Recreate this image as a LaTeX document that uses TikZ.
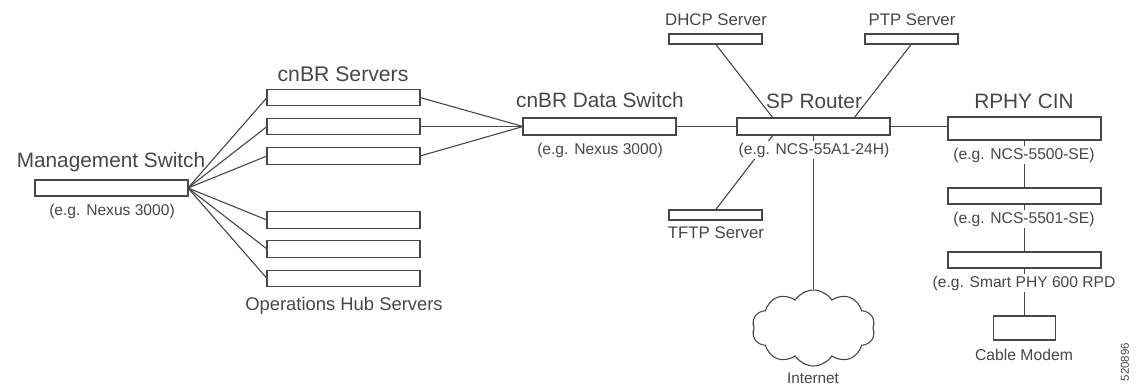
\documentclass[tikz,border=0pt]{standalone}
\usepackage{fontspec}
\setmainfont{Liberation Sans}
\usetikzlibrary{calc,shapes.symbols}

\colorlet{ink}{black!72}
\tikzset{
  unit/.style={draw=ink,line width=1.1pt,fill=white,inner sep=0pt,outer sep=0pt,minimum width=#1},
  unit/.default=153pt,
  link/.style={draw=ink,line width=1.1pt},
  bigtext/.style={text=ink,inner sep=0pt,font=\fontsize{20.8}{23}\selectfont},
  midtext/.style={text=ink,inner sep=0pt,font=\fontsize{16.8}{19}\selectfont},
  smalltext/.style={text=ink,fill=white,inner sep=1.5pt,font=\fontsize{15.6}{18}\selectfont},
}

\begin{document}
\begin{tikzpicture}[x=1pt,y=-1pt]
      \useasboundingbox (0,0) rectangle (1136,385);
      \begin{scope}
        % switches and router
        \node[unit,minimum height=16pt] (mgmt) at (111.5,188) {};
        \node[unit,minimum height=17pt] (data) at (599.5,126.5) {};
        \node[unit,minimum height=17pt] (router) at (813.5,126.5) {};

        % server racks
        \foreach \name/\ypos in {cnbra/97.5,cnbrb/126.5,cnbrc/156}
          \node[unit,minimum height=16.5pt] (\name) at (343.5,\ypos) {};
        \foreach \name/\ypos in {huba/220,hubb/249,hubc/278.5}
          \node[unit,minimum height=16.5pt] (\name) at (343.5,\ypos) {};

        % small servers around the router
        \node[unit=93pt,minimum height=10pt] (dhcp) at (715.5,39) {};
        \node[unit=93pt,minimum height=10pt] (ptp) at (911.5,39) {};
        \node[unit=93pt,minimum height=10pt] (tftp) at (715.5,215) {};

        % cin column
        \node[unit,minimum height=23pt] (cina) at (1024.5,128.5) {};
        \node[unit,minimum height=16pt] (cinb) at (1024.5,196) {};
        \node[unit,minimum height=16pt] (cinc) at (1024.5,260) {};
        \node[unit=62pt,minimum height=24pt] (modem) at (1024.5,328) {};
        \node[cloud,draw=ink,line width=1.1pt,cloud puffs=10,cloud puff arc=115,aspect=1.6,
              inner sep=0pt,minimum width=123pt,minimum height=76pt] (internet) at (813.5,328) {};

        \coordinate (dhcpjoin) at (773,118);
        \coordinate (ptpjoin) at (854,118);
        \coordinate (tftpjoin) at (773,135);

        \foreach \name in {cnbra,cnbrb,cnbrc,huba,hubb,hubc}
          \draw[link] (mgmt.east) -- (\name.west);
        \foreach \name in {cnbra,cnbrb,cnbrc}
          \draw[link] (\name.east) -- (data.west);
        \draw[link] (data.east) -- (router.west);
        \draw[link] (router.east) -- (router.east -| cina.west);
        \draw[link] (dhcp.south) -- (dhcpjoin);
        \draw[link] (ptp.south) -- (ptpjoin);
        \draw[link] (tftp.north) -- (tftpjoin);
        \draw[link] (router.south) -- (router.south |- internet.north);
        \draw[link] (cina.south) -- (cinb.north);
        \draw[link] (cinb.south) -- (cinc.north);
        \draw[link] (cinc.south) -- (modem.north);

        % labels go last, they cut the links
        \node[bigtext] (mgmttitle) at (111,162) {Management Switch};
        \node[smalltext] (mgmtnote) at (112,211) {(e.g. Nexus 3000)};
        \node[bigtext,font=\fontsize{21.2}{23}\selectfont] (cnbrtitle) at (343,74) {cnBR Servers};
        \node[midtext,font=\fontsize{18.4}{21}\selectfont] (hubtitle) at (344,306) {Operations Hub Servers};
        \node[bigtext] (datatitle) at (600,100) {cnBR Data Switch};
        \node[smalltext] (datanote) at (600,150) {(e.g. Nexus 3000)};
        \node[bigtext] (routertitle) at (814,101) {SP Router};
        \node[smalltext] (routernote) at (814,150) {(e.g. NCS-55A1-24H)};
        \node[midtext] (dhcptitle) at (716,20) {DHCP Server};
        \node[midtext] (ptptitle) at (912,20) {PTP Server};
        \node[midtext] (tftptitle) at (716,233) {TFTP Server};
        \node[bigtext] (cintitle) at (1024,101) {RPHY CIN};
        \node[smalltext] (cinanote) at (1024,155) {(e.g. NCS-5500-SE)};
        \node[smalltext] (cinbnote) at (1024,219) {(e.g. NCS-5501-SE)};
        \node[smalltext] (cincnote) at (1024,283) {(e.g. Smart PHY 600 RPD};
        \node[midtext,font=\fontsize{15.7}{18}\selectfont] (modemtitle) at (1024,355) {Cable Modem};
        \node[midtext,font=\fontsize{15.3}{18}\selectfont] (internettitle) at (813,378) {Internet};
        \node[midtext,font=\fontsize{11.5}{13}\selectfont,rotate=90] (figcode) at (1125,362) {520896};
      \end{scope}
    \end{tikzpicture}
\end{document}
